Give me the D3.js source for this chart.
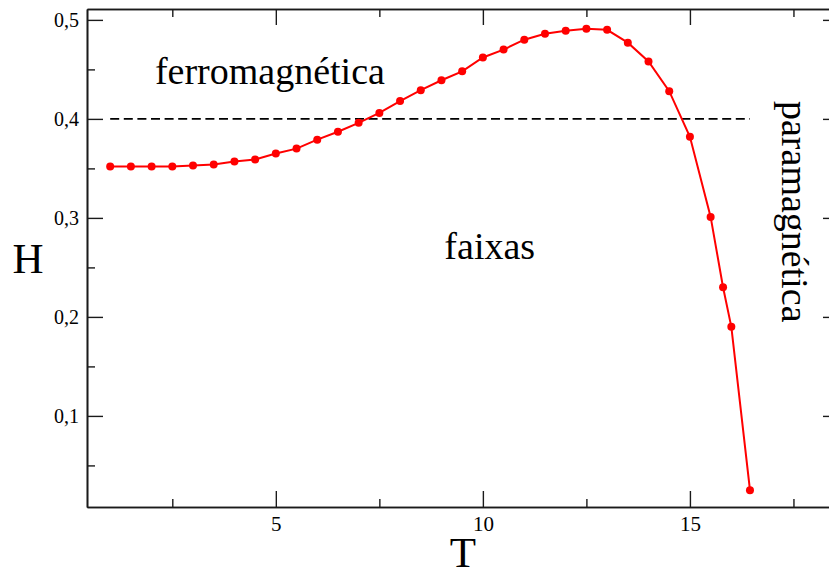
<!DOCTYPE html>
<html>
<head>
<meta charset="utf-8">
<script src="https://cdn.jsdelivr.net/npm/d3@7"></script>
<style>
  html, body { margin: 0; padding: 0; background: #fff; }
</style>
</head>
<body>
<svg id="chart" width="829" height="572"></svg>
<script>
// Phase boundary H(T) between striped and ferromagnetic phases
const temperature = [1, 1.5, 2, 2.5, 3, 3.5, 4, 4.5, 5, 5.5, 6, 6.5, 7, 7.5, 8, 8.5,
  9, 9.5, 10, 10.5, 11, 11.5, 12, 12.5, 13, 13.5, 14, 14.5, 15, 15.5, 15.8, 16, 16.45];
const field = [0.352, 0.352, 0.352, 0.352, 0.353, 0.354, 0.357, 0.359, 0.365, 0.370,
  0.379, 0.387, 0.396, 0.406, 0.418, 0.429, 0.439, 0.448, 0.462, 0.470, 0.480, 0.486,
  0.489, 0.491, 0.490, 0.477, 0.458, 0.428, 0.382, 0.301, 0.230, 0.190, 0.025];

// Reference level drawn as a dashed line
const refLevel = 0.4;
const refRange = [1, 16.45];

const xMajor = [5, 10, 15];
const xMinor = [2.5, 7.5, 12.5, 17.5];
const yMajor = [0.1, 0.2, 0.3, 0.4, 0.5];
const yMinor = [0.05, 0.15, 0.25, 0.35, 0.45];

const regionLabels = [
  { text: "ferromagnética", T: 2.08, H: 0.435 },
  { text: "faixas", T: 9.07, H: 0.258 }
];
const sideLabel = "paramagnética";

const serif = "'Liberation Serif', 'Times New Roman', Times, serif";
const svg = d3.select("#chart");
const plotLeft = 87, plotRight = 839, plotTop = 9, plotBottom = 507;

const x = d3.scaleLinear().domain([0.44, 18.6]).range([plotLeft, plotRight]);
const y = d3.scaleLinear().domain([0.008, 0.511]).range([plotBottom, plotTop]);

const fmt = d => d3.format(".1f")(d).replace(".", ",");
const axisColor = "#1a1a1a";

function styleAxis(g) {
  g.attr("font-family", serif);
  g.selectAll("path.domain").attr("stroke", axisColor).attr("stroke-width", 1.6);
  g.selectAll(".tick line").attr("stroke", axisColor).attr("stroke-width", 1.4);
  g.selectAll("text").attr("font-family", serif).attr("fill", "#000");
}

// bottom axis: major ticks with labels, minor ticks without
svg.append("g").attr("transform", `translate(0,${plotBottom})`)
  .call(d3.axisBottom(x).tickValues(xMajor).tickSize(-16).tickSizeOuter(0).tickPadding(9).tickFormat(d3.format("d")))
  .call(styleAxis)
  .call(g => g.selectAll("text").attr("font-size", 21));
svg.append("g").attr("transform", `translate(0,${plotBottom})`)
  .call(d3.axisBottom(x).tickValues(xMinor).tickSize(-8).tickSizeOuter(0).tickFormat(""))
  .call(styleAxis);

// top axis (mirror ticks)
svg.append("g").attr("transform", `translate(0,${plotTop})`)
  .call(d3.axisTop(x).tickValues(xMajor).tickSize(-16).tickSizeOuter(0).tickFormat(""))
  .call(styleAxis);
svg.append("g").attr("transform", `translate(0,${plotTop})`)
  .call(d3.axisTop(x).tickValues(xMinor).tickSize(-8).tickSizeOuter(0).tickFormat(""))
  .call(styleAxis);

// left axis
svg.append("g").attr("transform", `translate(${plotLeft},0)`)
  .call(d3.axisLeft(y).tickValues(yMajor).tickSize(-16).tickSizeOuter(0).tickPadding(8).tickFormat(fmt))
  .call(styleAxis)
  .call(g => g.selectAll("text").attr("font-size", 20));
svg.append("g").attr("transform", `translate(${plotLeft},0)`)
  .call(d3.axisLeft(y).tickValues(yMinor).tickSize(-8).tickSizeOuter(0).tickFormat(""))
  .call(styleAxis);

// right axis (mirror ticks)
svg.append("g").attr("transform", `translate(${plotRight},0)`)
  .call(d3.axisRight(y).tickValues(yMajor).tickSize(-16).tickSizeOuter(0).tickFormat(""))
  .call(styleAxis);
svg.append("g").attr("transform", `translate(${plotRight},0)`)
  .call(d3.axisRight(y).tickValues(yMinor).tickSize(-8).tickSizeOuter(0).tickFormat(""))
  .call(styleAxis);

// dashed reference line
svg.append("line")
  .attr("x1", x(refRange[0])).attr("x2", x(refRange[1]))
  .attr("y1", y(refLevel)).attr("y2", y(refLevel))
  .attr("stroke", "#000").attr("stroke-width", 1.6)
  .attr("stroke-dasharray", "9,4.6");

// data line and markers
const pts = temperature.map((t, i) => [t, field[i]]);
svg.append("path")
  .datum(pts)
  .attr("fill", "none").attr("stroke", "#ff0000").attr("stroke-width", 2)
  .attr("d", d3.line().x(d => x(d[0])).y(d => y(d[1])));
svg.append("g").selectAll("circle").data(pts).join("circle")
  .attr("cx", d => x(d[0])).attr("cy", d => y(d[1])).attr("r", 4)
  .attr("fill", "#ff0000");

// region labels
svg.append("g").selectAll("text").data(regionLabels).join("text")
  .attr("x", d => x(d.T)).attr("y", d => y(d.H))
  .attr("font-family", serif).attr("font-size", 38)
  .text(d => d.text);

svg.append("text")
  .attr("transform", `translate(782,101) rotate(90)`)
  .attr("font-family", serif).attr("font-size", 38)
  .text(sideLabel);

// axis titles
svg.append("text")
  .attr("x", (plotLeft + plotRight) / 2).attr("y", 567)
  .attr("text-anchor", "middle")
  .attr("font-family", serif).attr("font-size", 43)
  .text("T");
svg.append("text")
  .attr("x", 28).attr("y", (plotTop + plotBottom) / 2)
  .attr("dy", "0.35em")
  .attr("text-anchor", "middle")
  .attr("font-family", serif).attr("font-size", 43)
  .text("H");
</script>
</body>
</html>
